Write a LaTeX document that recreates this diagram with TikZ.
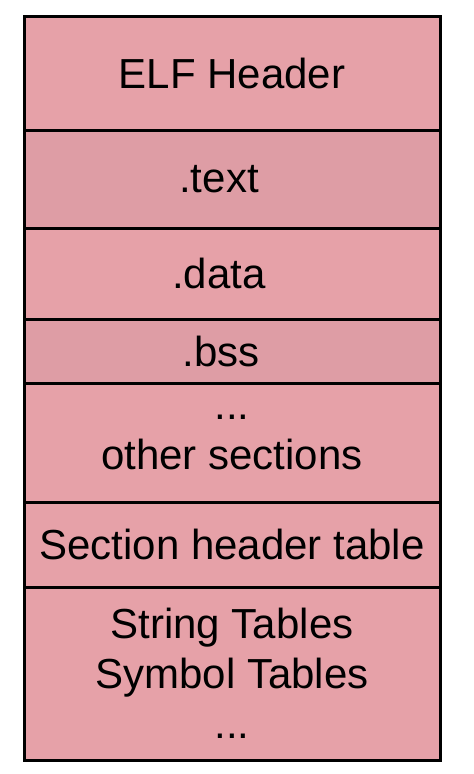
\documentclass[tikz,border=0pt]{standalone}
\usepackage{fontspec}
\setmainfont{Liberation Sans}
\usetikzlibrary{positioning}
\definecolor{segpink}{RGB}{230,161,168}
\definecolor{segdark}{RGB}{222,157,165}

\tikzset{
  seg/.style={draw=black,line width=3pt,fill=segpink,minimum width=416pt,
    inner sep=0pt,outer sep=0pt,align=center,font=\fontsize{42}{50}\selectfont},
  segalt/.style={seg,fill=segdark}
}

\begin{document}
\begin{tikzpicture}[x=1pt,y=-1pt]
        \useasboundingbox (0,0) rectangle (474,774);
        % ELF file layout, top to bottom
        \node[seg,minimum height=114pt] (hdr) at (232,73) {ELF Header};
        \node[segalt,minimum height=98pt,below=0pt of hdr] (text) {.text\hspace*{26pt}};
        \node[seg,minimum height=91pt,below=0pt of text] (data) {.data\hspace*{26pt}};
        \node[segalt,minimum height=64pt,below=0pt of data] (bss) {.bss\hspace*{22pt}};
        \node[seg,minimum height=119pt,below=0pt of bss] (other) {...\\other sections};
        \node[seg,minimum height=85pt,below=0pt of other] (sht) {Section header table};
        \node[seg,minimum height=173pt,below=0pt of sht] (tabs) {String Tables\\Symbol Tables\\...};
      \end{tikzpicture}
\end{document}
